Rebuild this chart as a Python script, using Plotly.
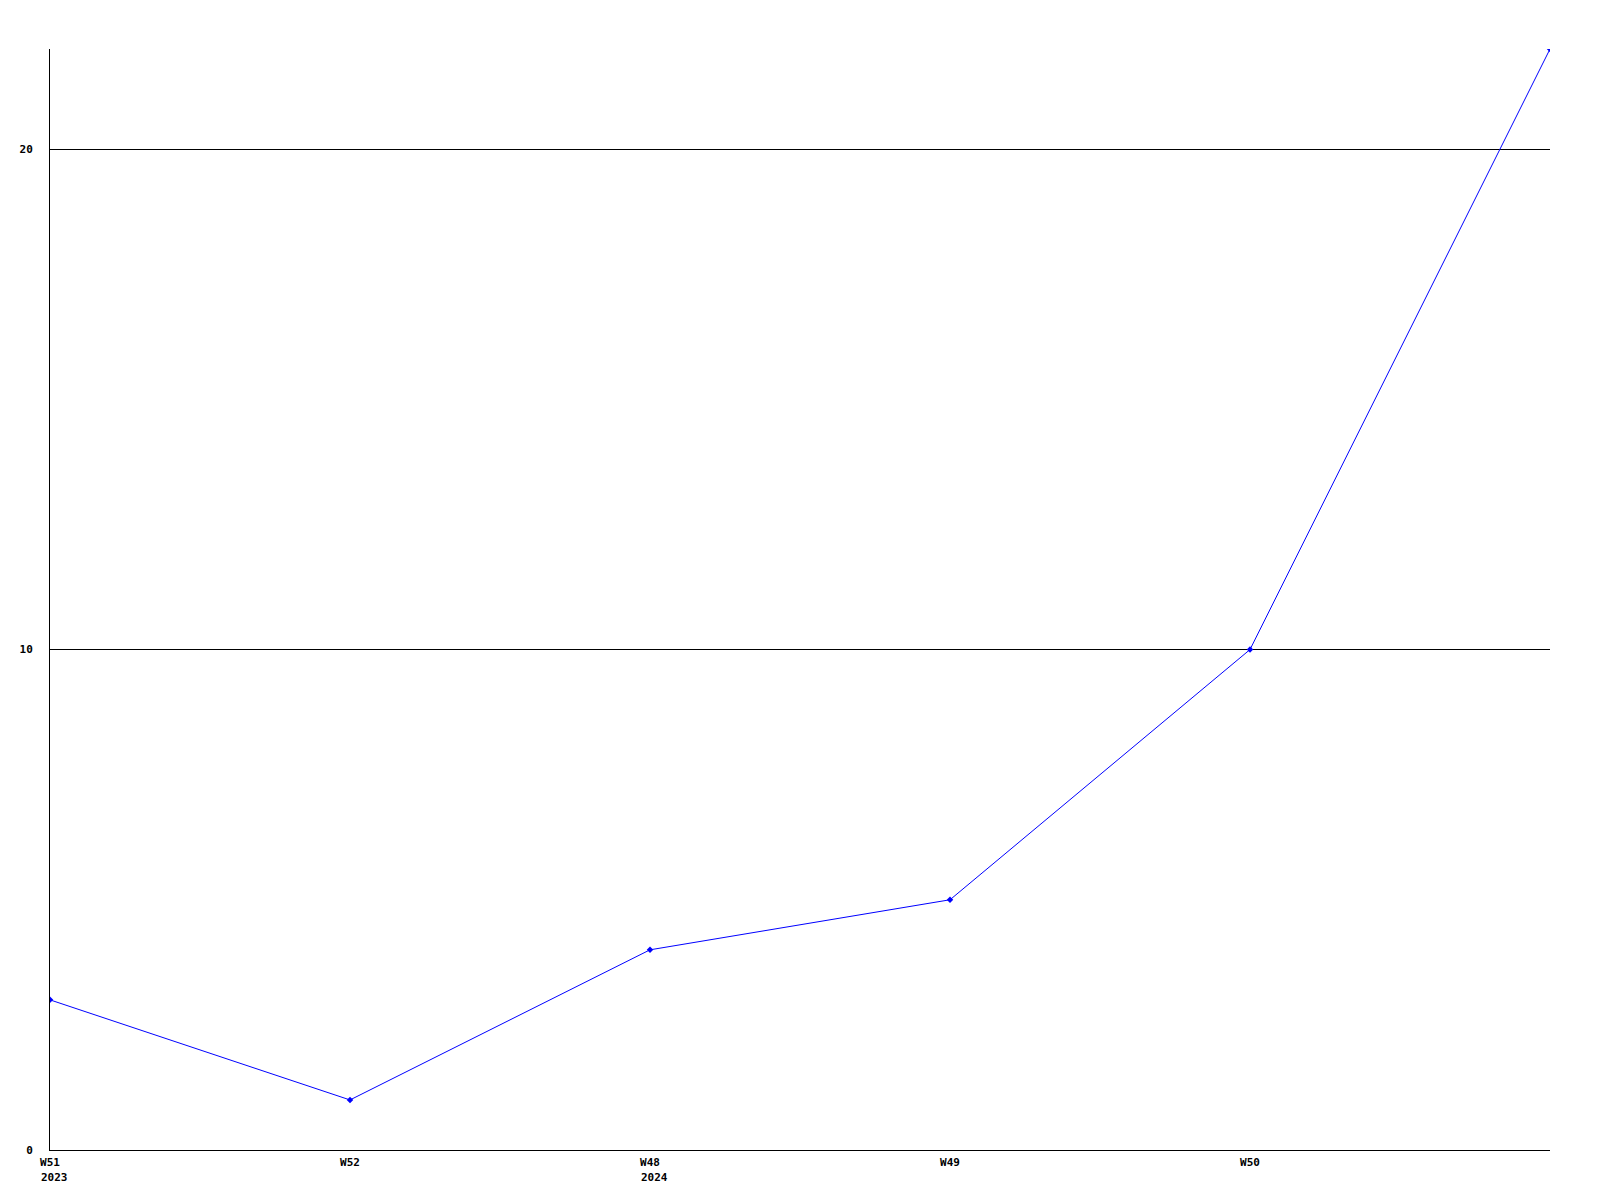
import plotly.graph_objects as go

categories = ["2023-W51", "2023-W52", "2024-W48", "2024-W49", "2024-W50", "2024-W51"]
week_labels = ["W51", "W52", "W48", "W49", "W50", ""]
year_labels = {"2023-W51": "2023", "2024-W48": "2024"}
values = [3, 1, 4, 5, 10, 22]
y_ticks = [0, 10, 20]

font = dict(family="DejaVu Sans Mono", size=11, color="black")

fig = go.Figure()
fig.add_trace(go.Scatter(
    x=categories, y=values, mode="lines+markers",
    line=dict(color="#0000ff", width=1),
    marker=dict(symbol="diamond", size=5, color="#0000ff"),
    showlegend=False, cliponaxis=True,
))

for cat, yr in year_labels.items():
    fig.add_annotation(
        x=cat, xref="x", y=0, yref="paper", text="<b>" + yr + "</b>",
        showarrow=False, xanchor="left", yanchor="middle",
        xshift=-11, yshift=-27, font=font,
    )

fig.update_layout(
    width=1584, height=1184,
    margin=dict(l=42, r=42, t=41, b=42, autoexpand=False),
    paper_bgcolor="white", plot_bgcolor="white",
    font=font,
)
fig.update_xaxes(
    type="category", range=[0, len(categories) - 1],
    tickvals=categories, ticktext=["<b>" + t + "</b>" if t else "" for t in week_labels],
    showgrid=False, showline=True, linecolor="black", linewidth=1,
    ticks="", ticklabelstandoff=2, zeroline=False, automargin=False,
)
fig.update_yaxes(
    range=[0, 22], tickvals=y_ticks, ticktext=["<b>%d</b>" % v for v in y_ticks],
    showgrid=True, gridcolor="black", gridwidth=1,
    showline=True, linecolor="black", linewidth=1,
    ticks="", ticklabelstandoff=14, zeroline=False, automargin=False,
)

fig.write_html("out.html")
